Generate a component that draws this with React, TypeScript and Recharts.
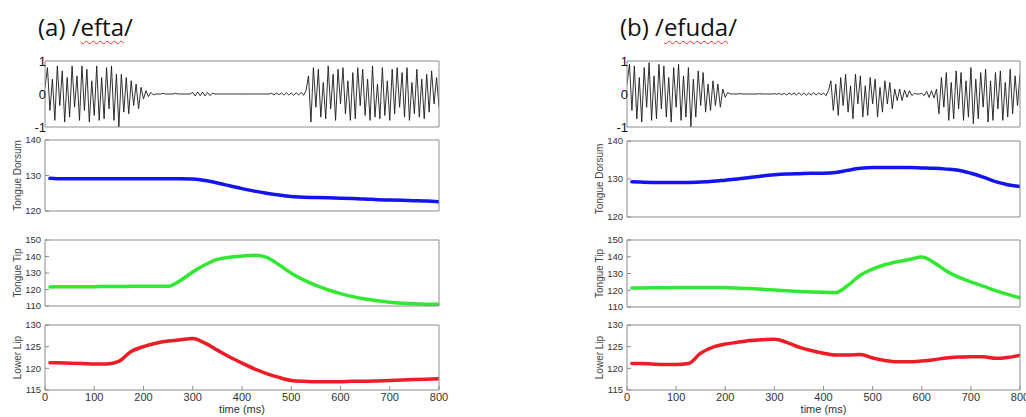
import React from "react";
import { LineChart, Line, XAxis, YAxis } from "recharts";

// audio samples, one every 5 ms (0..800)
const STEP_MS = 5;
const waveEfta = [
  0.2, 0.8, -0.5, 0.45, -0.8, 0.85, -0.35, 0.7, -0.85, 0.5,
  -0.7, 0.85, -0.4, 0.55, -0.8, 0.85, -0.5, 0.75, -0.85, 0.4,
  -0.65, 0.85, -0.8, 0.5, -0.75, 0.8, -0.45, 0.85, -0.8, 0.6,
  -1.0,
  0.6, -0.55, 0.5, -0.6, 0.4, -0.35, 0.3, -0.45, 0.2, -0.15, 0.1, -0.08, 0.05, -0.03,
  0, 0, 0, 0.02, 0, 0, 0, 0, 0.02, 0, 0, 0, 0, 0, 0,
  0.05, -0.06, 0.06, -0.05, 0.06, -0.06, 0.05, -0.05, 0.03,
  0, 0, 0, 0, 0, 0, 0, 0, 0, 0, 0, 0, 0, 0, 0, 0, 0, 0, 0, 0, 0, 0, 0,
  0.02, -0.03, 0.03, -0.02, 0.03, -0.03, 0.04, -0.03, 0.03, -0.04, 0.04, -0.03, 0.05, -0.04, 0.1,
  0.55, -0.85, 0.8, -0.4, 0.75, -0.7, 0.35, -0.75, 0.85, -0.45,
  0.6, -0.8, 0.75, -0.3, 0.8, -0.6, 0.4, -0.8, 0.65, -0.75,
  0.8, -0.35, 0.75, -0.65, 0.45, -0.8, 0.85, -0.7, 0.3, -0.75,
  0.8, -0.65, 0.4, -0.8, 0.75, -0.6, 0.8, -0.4, 0.65, -0.7,
  0.8, -0.8, 0.35, -0.6, 0.75, -0.7, 0.45, -0.75, 0.6, -0.55,
  0.7, -0.3, 0.5, -0.4,
];
const waveEfuda = [
  0.3, 0.9, -0.5, 0.85, -0.75, 0.5, -0.85, 0.8, -0.4, 0.95,
  -0.8, 0.55, -0.75, 0.9, -0.45, 0.85, -0.7, 0.5, -0.85, 0.8,
  -0.4, 0.9, -0.8, 0.55, -0.7, 0.8, -1.0, 0.45, -0.7, 0.7,
  -0.35, 0.65, -0.55, 0.3, -0.5,
  0.4, -0.35, 0.3, -0.4, 0.15, -0.1, 0.05,
  0, 0, 0, 0, 0.01, 0, 0, 0, 0, 0, 0, 0, 0.01, 0, 0, 0, 0, 0,
  0.01, -0.01, 0.02, -0.02, 0.02, -0.03, 0.03, -0.02, 0.03, -0.03,
  0.04, -0.03, 0.03, -0.04, 0.03, -0.03, 0.04, -0.03, 0.03, -0.02,
  0.03, -0.05, 0.1,
  0.4, -0.5, 0.3, -0.65, 0.5, -0.35, 0.6, -0.55, 0.25, -0.75,
  0.6, -0.3, 0.55, -0.7, 0.25, -0.65, 0.5, -0.3, 0.45, -0.7,
  0.2, -0.55, 0.4, -0.3, 0.35, -0.45, 0.15,
  -0.2, 0.15, -0.2, 0.12, -0.1, 0.1, -0.05, 0.02, 0, 0,
  0.02, -0.05, 0.08, -0.1, 0.1, -0.12, 0.15,
  -0.6, 0.5, -0.4, 0.65, -0.8, 0.35, -0.75, 0.7, -0.45, 0.65,
  -0.8, 0.4, -0.7, 0.8, -0.9, 0.45, -0.75, 0.65, -0.4, 0.75,
  -0.85, 0.4, -0.8, 0.65, -0.45, 0.7, -0.8, 0.35, -0.7, 0.75,
  -0.6, 0.55, -0.35, 0.6,
];

// articulator positions sampled at these times (ms)
const timeGrid = [10, 25, 50, 75, 100, 125, 150, 175, 200, 225, 250, 275, 300, 325, 350, 375, 400, 425, 450, 475, 500, 525, 550, 575, 600, 625, 650, 675, 700, 725, 750, 775, 800];

const dorsumEfta = [129.2, 129.1, 129.1, 129.1, 129.1, 129.1, 129.1, 129.1, 129.1, 129.1, 129.1, 129.1, 129.0, 128.6, 127.9, 127.1, 126.3, 125.6, 125.0, 124.5, 124.1, 123.9, 123.8, 123.7, 123.6, 123.5, 123.4, 123.2, 123.1, 123.0, 122.9, 122.8, 122.6];
const tipEfta = [121.5, 121.6, 121.6, 121.7, 121.7, 121.8, 121.8, 121.9, 122.0, 122.0, 122.0, 125.5, 130.6, 135.0, 138.3, 139.6, 140.3, 140.8, 139.5, 135.0, 129.8, 125.8, 122.5, 119.8, 117.5, 115.7, 114.3, 113.2, 112.3, 111.7, 111.3, 111.1, 111.0];
const lipEfta = [121.3, 121.3, 121.2, 121.1, 121.0, 121.0, 121.6, 123.9, 125.0, 125.8, 126.3, 126.6, 126.9, 125.8, 124.2, 122.6, 121.2, 119.9, 118.8, 117.9, 117.2, 117.0, 116.9, 116.9, 116.9, 117.0, 117.0, 117.1, 117.2, 117.3, 117.4, 117.5, 117.6];

const dorsumEfuda = [129.3, 129.2, 129.1, 129.1, 129.1, 129.1, 129.2, 129.4, 129.7, 130.0, 130.4, 130.8, 131.1, 131.3, 131.4, 131.5, 131.5, 131.7, 132.3, 132.8, 133.0, 133.0, 133.0, 133.0, 132.9, 132.8, 132.6, 132.3, 131.5, 130.5, 129.3, 128.5, 128.0];
const tipEfuda = [121.3, 121.4, 121.5, 121.5, 121.6, 121.6, 121.7, 121.7, 121.6, 121.3, 121.0, 120.6, 120.1, 119.7, 119.3, 119.0, 118.8, 118.7, 123.0, 129.0, 132.6, 135.2, 137.0, 138.4, 139.8, 136.5, 131.5, 127.8, 125.0, 122.5, 119.8, 117.5, 115.5];
const lipEfuda = [121.1, 121.1, 121.0, 120.9, 120.9, 121.1, 123.5, 124.9, 125.6, 126.0, 126.4, 126.6, 126.7, 126.0, 124.9, 124.1, 123.5, 123.1, 123.1, 123.2, 122.4, 121.8, 121.5, 121.5, 121.7, 122.0, 122.4, 122.6, 122.7, 122.7, 122.3, 122.5, 123.0];

const timeTicks = [0, 100, 200, 300, 400, 500, 600, 700, 800];
const waveXTicks = [432];
const waveTicks = [-1, 0, 1];
const dorsumTicks = [120, 130, 140];
const tipTicks = [110, 120, 130, 140, 150];
const lipTicks = [115, 120, 125, 130];

const FONT = "'Liberation Sans', Arial, Helvetica, sans-serif";
const BOX = "#8c8c8c";
const AXIS_W = 56;
const PAD_T = 8;
const PAD_R = 14;
const PAD_B = 8;

type Row = { t: number; v: number };

const waveRows = (arr: number[]): Row[] => arr.map((v, i) => ({ t: i * STEP_MS, v }));
const trackRows = (arr: number[]): Row[] => timeGrid.map((t, i) => ({ t, v: arr[i] }));

type PanelProps = {
  x: number;
  y: number;
  w: number;
  h: number;
  data: Row[];
  color: string;
  width: number;
  yTicks: number[];
  xTicks: number[];
  label?: string;
  showTime?: boolean;
  wave?: boolean;
};

function Panel({ x, y, w, h, data, color, width, yTicks, xTicks, label, showTime, wave }: PanelProps) {
  const bottomH = showTime ? 26 : 1;
  const pb = showTime ? 1 : PAD_B;
  const domain: [number, number] = [yTicks[0], yTicks[yTicks.length - 1]];
  return (
    <div style={{ position: "absolute", left: x - AXIS_W, top: y - 1 - PAD_T }}>
      <LineChart
        width={AXIS_W + w + 1 + PAD_R}
        height={PAD_T + 1 + h + bottomH + pb}
        data={data}
        margin={{ top: PAD_T, right: PAD_R, bottom: pb, left: 0 }}
      >
        <XAxis
          dataKey="t"
          type="number"
          domain={[0, 800]}
          allowDataOverflow
          ticks={xTicks}
          interval={0}
          height={bottomH}
          stroke={BOX}
          tickSize={-4}
          tickMargin={7}
          tick={showTime ? { fontSize: 11, fill: "#333", fontFamily: FONT } : false}
          label={
            showTime
              ? { value: "time (ms)", position: "insideBottom", offset: 3, fontSize: 11, fill: "#333", fontFamily: FONT }
              : undefined
          }
        />
        <XAxis
          xAxisId="top"
          orientation="top"
          type="number"
          domain={[0, 800]}
          ticks={xTicks}
          interval={0}
          height={1}
          stroke={BOX}
          tickSize={-4}
          tick={false}
        />
        <YAxis
          type="number"
          domain={domain}
          allowDataOverflow
          ticks={yTicks}
          interval={0}
          width={AXIS_W}
          stroke={BOX}
          tickSize={-4}
          tickLine={!wave}
          tickMargin={wave ? 3 : 8}
          tick={{ fontSize: wave ? 13 : 9.5, fill: wave ? "#111" : "#333", fontFamily: FONT }}
          label={
            label
              ? { value: label, angle: -90, position: "center", fontSize: 10, fill: "#444", fontFamily: FONT }
              : undefined
          }
        />
        <YAxis
          yAxisId="right"
          orientation="right"
          type="number"
          domain={domain}
          ticks={yTicks}
          interval={0}
          width={1}
          stroke={BOX}
          tickSize={-4}
          tickLine={!wave}
          tick={false}
        />
        <Line
          dataKey="v"
          type={wave ? "linear" : "monotone"}
          stroke={color}
          strokeWidth={width}
          dot={false}
          activeDot={false}
          isAnimationActive={false}
          strokeLinejoin="round"
          strokeLinecap="round"
        />
      </LineChart>
    </div>
  );
}

const titleStyle: React.CSSProperties = {
  position: "absolute",
  fontFamily: "'Open Sans', 'Noto Sans', sans-serif",
  fontSize: 24,
  color: "#111",
  whiteSpace: "nowrap",
};
const squiggle: React.CSSProperties = {
  textDecoration: "underline wavy #e03030",
  textDecorationThickness: 1,
  textUnderlineOffset: 4,
};

const BLUE = "#1414f0";
const GREEN = "#33e833";
const RED = "#ee1c24";

export default function App() {
  const cols = [
    { x: 45, w: 394, title: "(a) /", word: "efta", wave: waveEfta, dorsum: dorsumEfta, tip: tipEfta, lip: lipEfta, dorsumTop: 140, dorsumH: 71, tipH: 66 },
    { x: 627, w: 393, title: "(b) /", word: "efuda", wave: waveEfuda, dorsum: dorsumEfuda, tip: tipEfuda, lip: lipEfuda, dorsumTop: 141, dorsumH: 76, tipH: 67 },
  ];
  return (
    <div style={{ position: "absolute", left: 0, top: 0, width: 1026, height: 417, background: "#fff", overflow: "hidden" }}>
      {cols.map((c) => (
        <React.Fragment key={c.word}>
          <div style={{ ...titleStyle, left: c.x - 7, top: 10 }}>
            {c.title}
            <span style={squiggle}>{c.word}</span>/
          </div>
          <Panel x={c.x} y={61} w={c.w} h={66} data={waveRows(c.wave)} color="#1a1a1a" width={0.9} yTicks={waveTicks} xTicks={waveXTicks} wave />
          <Panel x={c.x} y={c.dorsumTop} w={c.w} h={c.dorsumH} data={trackRows(c.dorsum)} color={BLUE} width={3.5} yTicks={dorsumTicks} xTicks={timeTicks} label="Tongue Dorsum" />
          <Panel x={c.x} y={240} w={c.w} h={c.tipH} data={trackRows(c.tip)} color={GREEN} width={3.5} yTicks={tipTicks} xTicks={timeTicks} label="Tongue Tip" />
          <Panel x={c.x} y={325} w={c.w} h={65} data={trackRows(c.lip)} color={RED} width={3.5} yTicks={lipTicks} xTicks={timeTicks} label="Lower Lip" showTime />
        </React.Fragment>
      ))}
    </div>
  );
}
